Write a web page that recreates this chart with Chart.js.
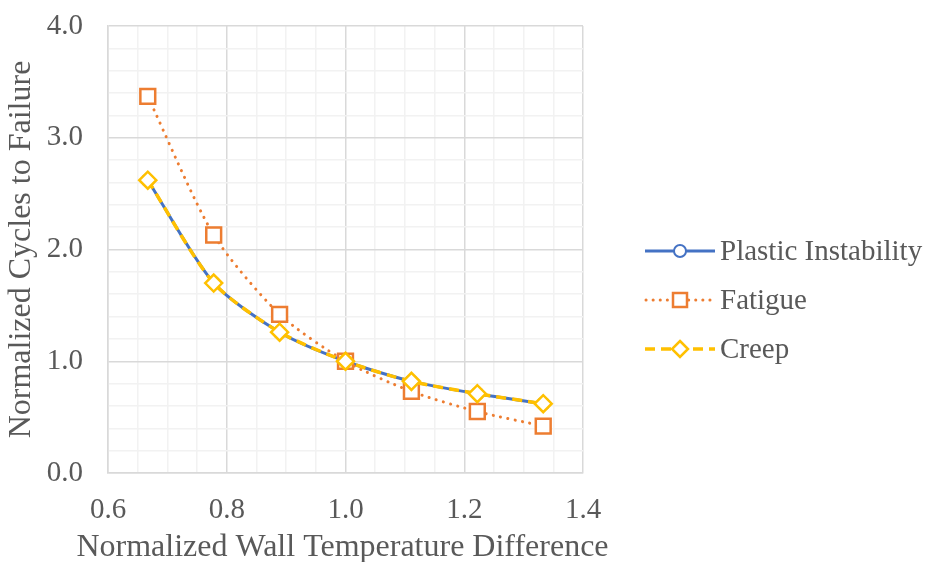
<!DOCTYPE html>
<html>
<head>
<meta charset="utf-8">
<script src="https://cdn.jsdelivr.net/npm/chart.js@4"></script>
<style>
  html, body { margin:0; padding:0; background:#fff; }
  .wrap { position:relative; width:926px; height:562px; }
  #grafico { position:absolute; left:0; top:0; }
  .legend { position:absolute; left:643px; top:226px; font-family:"Liberation Serif", serif; font-size:29px; color:#595959; }
  .legend div { display:flex; align-items:center; height:49px; }
  .legend svg { margin-right:3px; }
</style>
</head>
<body>
<div class="wrap">
  <canvas id="grafico" width="926" height="562"></canvas>
  <div class="legend" id="legenda"></div>
</div>
<script>
/* DADOS */
const xVals = [0.667, 0.778, 0.889, 1.0, 1.111, 1.222, 1.333];
const plastic = [2.62, 1.70, 1.26, 1.00, 0.82, 0.71, 0.62];
const fatigue = [3.37, 2.13, 1.42, 1.00, 0.73, 0.55, 0.42];
const creep = [2.62, 1.70, 1.26, 1.00, 0.82, 0.71, 0.62];
const seriesNames = ["Plastic Instability", "Fatigue", "Creep"];
const xTitle = "Normalized Wall Temperature Difference";
const yTitle = "Normalized Cycles to Failure";

const azul = "#4472C4", laranja = "#ED7D31", amarelo = "#FFC000", cinza = "#595959";
const fonteTick = { family:"Liberation Serif", size:29 };

function pts(ys){ return xVals.map((x,i)=>({x:x, y:ys[i]})); }
function perto(v, passo){ return Math.abs(v/passo - Math.round(v/passo)) < 1e-6; }

/* TITULOS DOS EIXOS (sem limite de largura) */
const titulos = {
  id:"titulos",
  afterDraw(chart){
    const {ctx, chartArea:a} = chart;
    ctx.save();
    ctx.fillStyle = cinza;
    ctx.font = "32px 'Liberation Serif'";
    ctx.textAlign = "center";
    ctx.textBaseline = "middle";
    ctx.fillText(xTitle, (a.left+a.right)/2 - 3, 548);
    ctx.translate(22, (a.top+a.bottom)/2);
    ctx.rotate(-Math.PI/2);
    ctx.fillText(yTitle, 0, 0);
    ctx.restore();
  }
};

new Chart(document.getElementById("grafico"), {
  type:"line",
  data:{
    datasets:[
      { label:seriesNames[0], data:pts(plastic), borderColor:azul, borderWidth:3, tension:0.25,
        pointStyle:"circle", pointRadius:6, pointBorderWidth:2, pointBackgroundColor:"#fff", pointBorderColor:azul, order:3 },
      { label:seriesNames[1], data:pts(fatigue), borderColor:laranja, borderWidth:3, tension:0.25,
        borderDash:[0.1,7.3], borderCapStyle:"round",
        pointStyle:"rect", pointRadius:10.5, pointBorderWidth:2.5, pointBackgroundColor:"#fff", pointBorderColor:laranja, order:2 },
      { label:seriesNames[2], data:pts(creep), borderColor:amarelo, borderWidth:3.5, tension:0.25,
        borderDash:[10,6],
        pointStyle:"rectRot", pointRadius:8.5, pointBorderWidth:2.5, pointBackgroundColor:"#fff", pointBorderColor:amarelo, order:1 }
    ]
  },
  plugins:[titulos],
  options:{
    responsive:false,
    animation:false,
    layout:{ padding:{ top:26, right:343, left:0, bottom:0 } },
    plugins:{ legend:{display:false}, tooltip:{enabled:false} },
    scales:{
      x:{
        type:"linear", min:0.6, max:1.4,
        afterFit:s=>{ s.height = 89; },
        ticks:{ stepSize:0.05, autoSkip:false, maxRotation:0, color:cinza, font:fonteTick, padding:20,
          callback:v=> perto(v,0.2) ? v.toFixed(1) : "" },
        grid:{ drawTicks:false, color:c=> perto(c.tick.value,0.2) ? "#D9D9D9" : "#F2F2F2", lineWidth:1.5 },
        border:{ color:"#D9D9D9", width:1.5 }
      },
      y:{
        min:0, max:4,
        afterFit:s=>{ s.width = 108; s.paddingTop = 0; s.paddingBottom = 0; },
        ticks:{ stepSize:0.2, autoSkip:false, color:cinza, font:{ ...fonteTick, lineHeight:0.5 }, padding:25,
          callback:v=> perto(v,1) ? v.toFixed(1) : "" },
        grid:{ drawTicks:false, color:c=> perto(c.tick.value,1) ? "#D9D9D9" : "#F2F2F2", lineWidth:1.5 },
        border:{ color:"#D9D9D9", width:1.5 }
      }
    }
  }
});

/* LEGENDA */
const marcas = [
  `<line x1="2" y1="12" x2="72" y2="12" stroke="${azul}" stroke-width="3"/><circle cx="37" cy="12" r="6" fill="#fff" stroke="${azul}" stroke-width="2"/>`,
  `<line x1="3" y1="12" x2="72" y2="12" stroke="${laranja}" stroke-width="3" stroke-dasharray="0.1 7" stroke-linecap="round"/><rect x="30" y="5" width="14" height="14" fill="#fff" stroke="${laranja}" stroke-width="2.5"/>`,
  `<line x1="2" y1="12" x2="72" y2="12" stroke="${amarelo}" stroke-width="3.5" stroke-dasharray="10 6"/><polygon points="37,4 45,12 37,20 29,12" fill="#fff" stroke="${amarelo}" stroke-width="2.5"/>`
];
const legendaEl = document.getElementById("legenda");
seriesNames.forEach((n,i)=>{
  legendaEl.innerHTML += `<div><svg width="74" height="24">${marcas[i]}</svg><span>${n}</span></div>`;
});
</script>
</body>
</html>
